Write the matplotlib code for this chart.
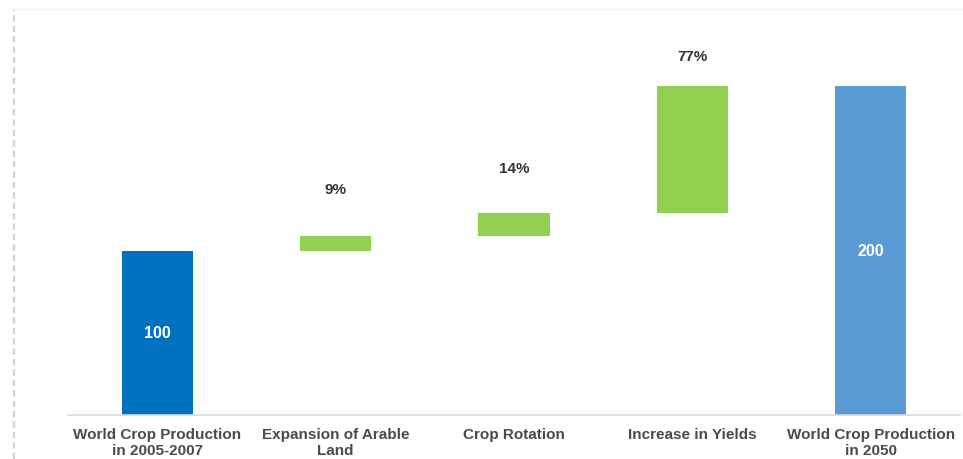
import matplotlib.pyplot as plt
from matplotlib.lines import Line2D

categories = ['World Crop Production\nin 2005-2007', 'Expansion of Arable\nLand',
              'Crop Rotation', 'Increase in Yields', 'World Crop Production\nin 2050']
start_value = 100
increments = [9, 14, 77]
end_value = 200
inc_labels = ['9%', '14%', '77%']

plt.rcParams['font.family'] = ['Liberation Sans', 'DejaVu Sans']

fig = plt.figure(figsize=(9.63, 4.6), dpi=100)
ax = fig.add_axes([68/963, 44/460, (960-68)/963, (416-38)/460])

w = 0.4
# first total bar
ax.bar(0, start_value, width=w, color='#0070C0')
ax.text(0, start_value/2, str(start_value), ha='center', va='center',
        color='white', fontsize=11.5, fontweight='bold')

# floating increments
bottom = start_value
pads = [34, 32, 22]
for i, (inc, lab) in enumerate(zip(increments, inc_labels)):
    ax.bar(i+1, inc, bottom=bottom, width=w, color='#92D050')
    ax.annotate(lab, (i+1, bottom+inc), xytext=(0, pads[i]), textcoords='offset points',
                ha='center', va='center', fontsize=11, fontweight='bold', color='#333333')
    bottom += inc

# final total bar
ax.bar(4, end_value, width=w, color='#5B9BD5')
ax.text(4, end_value/2, str(end_value), ha='center', va='center',
        color='white', fontsize=11.5, fontweight='bold')

ax.set_xlim(-0.5, 4.5)
ax.set_ylim(0, 230)
ax.set_xticks(range(len(categories)))
ax.set_xticklabels(categories, fontsize=11, fontweight='bold', color='#4a4a4a', linespacing=1.1)
ax.tick_params(axis='x', length=0, pad=9)
ax.set_yticks([])
for s in ['top', 'right', 'left']:
    ax.spines[s].set_visible(False)
ax.spines['bottom'].set_color('#d9d9d9')
ax.spines['bottom'].set_linewidth(1.2)

# faint frame lines from the screenshot
fig.add_artist(Line2D([14/963, 14/963], [0, 1 - 10/460], color='#d0d0d0',
                      linestyle=(0, (3, 2)), linewidth=1.5))
fig.add_artist(Line2D([14/963, 1], [1 - 10/460, 1 - 10/460], color='#f3f3f3', linewidth=1))

fig.savefig('out.png', dpi=100)
